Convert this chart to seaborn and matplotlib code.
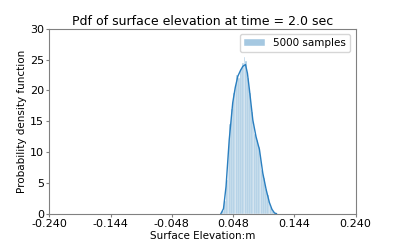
import matplotlib
matplotlib.use("Agg")
import matplotlib.pyplot as plt
import seaborn as sns
import numpy as np
import pandas as pd

# Histogram (density) values
bin_edges = [0.0310, 0.0338, 0.0366, 0.0394, 0.0422, 0.0450, 0.0478, 0.0506,
             0.0534, 0.0562, 0.0590, 0.0618, 0.0646, 0.0674, 0.0702, 0.0730,
             0.0758, 0.0786, 0.0814, 0.0842, 0.0870, 0.0898, 0.0926, 0.0954,
             0.0982, 0.1010, 0.1038, 0.1066, 0.1094, 0.1122, 0.1150]
hist_density = [0.5, 2.0, 5.5, 10.0, 14.5, 17.0, 19.5, 20.5, 22.5, 22.0,
                23.5, 24.5, 25.5, 24.8, 22.0, 19.5, 16.5, 14.5, 13.0, 12.0,
                10.8, 9.5, 7.0, 5.8, 4.0, 3.0, 1.8, 1.0, 0.4, 0.1]

# KDE curve points
kde_x = [0.029, 0.033, 0.037, 0.042, 0.0475, 0.0515, 0.0555, 0.0595, 0.0633,
         0.0675, 0.0705, 0.0737, 0.079, 0.084, 0.0894, 0.0946, 0.0999,
         0.105, 0.109, 0.113, 0.116]
kde_y = [0.0, 0.8, 4.4, 12.0, 18.0, 20.5, 22.3, 23.2, 23.9,
         24.2, 22.8, 20.1, 15.2, 12.5, 10.4, 6.6, 3.9,
         1.8, 0.7, 0.1, 0.0]

xticks = [-0.240, -0.144, -0.048, 0.048, 0.144, 0.240]
yticks = [0, 5, 10, 15, 20, 25, 30]

title = "Pdf of surface elevation at time = 2.0 sec"
xlabel = "Surface Elevation:m"
ylabel = "Probability density function"
legend_label = "5000 samples"

plt.rcParams.update({
    "axes.edgecolor": "#808080",
    "xtick.color": "#808080",
    "ytick.color": "#808080",
    "xtick.labelcolor": "black",
    "ytick.labelcolor": "black",
    "font.family": ["DejaVu Sans"],
})

fig, ax = plt.subplots(figsize=(3.95, 2.4), dpi=100)

centers = [(bin_edges[i] + bin_edges[i + 1]) / 2 for i in range(len(hist_density))]
hdf = pd.DataFrame({"x": centers, "w": hist_density})
sns.histplot(data=hdf, x="x", weights="w", bins=bin_edges, stat="count",
             color="#1f77b4", alpha=0.4, edgecolor="white", linewidth=0.3,
             label=legend_label, ax=ax)
kdf = pd.DataFrame({"x": kde_x, "y": kde_y})
sns.lineplot(data=kdf, x="x", y="y", color="#2a7fc0", linewidth=1.0, ax=ax)

ax.set_xlim(-0.24, 0.24)
ax.set_ylim(0, 30)
ax.set_xticks(xticks)
ax.set_xticklabels([f"{t:.3f}" for t in xticks])
ax.set_yticks(yticks)
ax.tick_params(labelsize=8, length=2.5, pad=1.5)
ax.set_title(title, fontsize=9, pad=3)
ax.set_xlabel(xlabel, fontsize=7.5, labelpad=1)
ax.set_ylabel(ylabel, fontsize=7.5, labelpad=2)
ax.legend(fontsize=7.5, loc="upper right")

fig.savefig("out.png", dpi=100)
